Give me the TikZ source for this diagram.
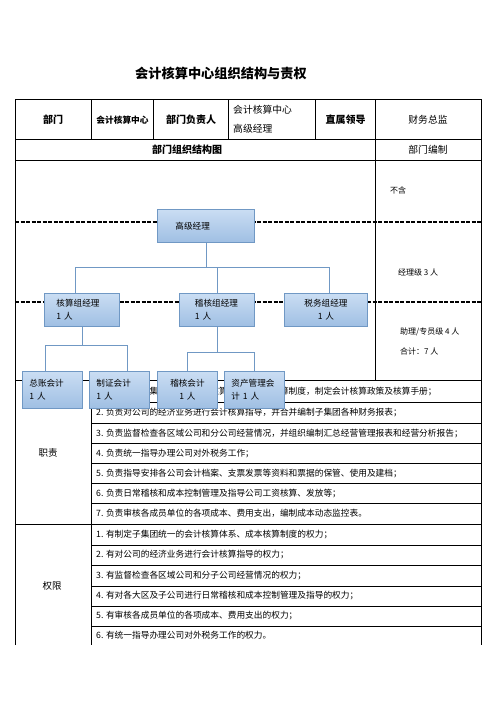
\documentclass[tikz,border=0pt]{standalone}
\usepackage{fontspec}
\setmainfont{Noto Sans CJK SC}
\usetikzlibrary{positioning}
\definecolor{OrgLine}{HTML}{7098C4}
\definecolor{OrgTop}{HTML}{CADDF3}
\definecolor{OrgBot}{HTML}{9FBFE3}

\begin{document}
\begin{tikzpicture}[x=1pt,y=-1pt,
  grid/.style={line width=0.8pt},
  level/.style={line width=1.1pt, dash pattern=on 4pt off 1.5pt},
  orgbox/.style={draw=OrgLine, line width=0.9pt, top color=OrgTop, bottom color=OrgBot, anchor=north west, inner ysep=0pt, font=\fontsize{8.6}{13}\selectfont},
  conn/.style={draw=OrgLine, line width=0.9pt},
  head/.style={font=\fontsize{10}{12}\selectfont\bfseries},
  cell/.style={font=\fontsize{9.8}{19}\selectfont},
  item/.style={anchor=west, inner sep=0pt, font=\fontsize{8.7}{10}\selectfont},
  side/.style={anchor=west, inner sep=0pt, font=\fontsize{8}{10}\selectfont}]
  \useasboundingbox (0,0) rectangle (496,702);

  % table grid
  \draw[grid] (15,645) -- (15,99) -- (481,99) -- (481,645);
  \draw[grid] (15,139.5) -- (481,139.5);
  \draw[grid] (15,160) -- (481,160);
  \foreach \x in {91.5,153.5,228.5,315.5}
    \draw[grid] (\x,99) -- (\x,139.5);
  \draw[grid] (375.5,99) -- (375.5,380.5);
  \draw[grid] (15,380.5) -- (481,380.5);
  \draw[grid] (91.5,380.5) -- (91.5,645);
  \draw[grid] (15,524) -- (481,524);
  \foreach \y in {402,423,443.5,463.5,483.5,503.5,545,565,586,606,626}
    \draw[grid] (91.5,\y) -- (481,\y);

  % level lines
  \draw[level] (15,222) -- (481,222);
  \draw[level] (15,302) -- (481,302);

  \node[font=\fontsize{13.2}{15}\selectfont\bfseries] (title) at (221,73) {会计核算中心组织结构与责权};

  % header
  \node[head] (dept) at (53,120) {部门};
  \node[font=\fontsize{8.7}{10}\selectfont\bfseries] (deptname) at (122.5,120) {会计核算中心};
  \node[head] (lead) at (191,120) {部门负责人};
  \node[cell, align=left, anchor=west, inner sep=0pt] (leadname) at (233,119.5) {会计核算中心\\高级经理};
  \node[head] (boss) at (345.5,120) {直属领导};
  \node[cell] (bossname) at (428,120) {财务总监};
  \node[head] (chart) at (187,149.5) {部门组织结构图};
  \node[cell] (staff) at (428,149.5) {部门编制};

  % staffing column
  \node[side] (none) at (390,190) {不含};
  \node[side] (mgr) at (398,272) {经理级 3 人};
  \node[side] (asst) at (400,332) {助理/专员级 4 人};
  \node[side] (total) at (400,351) {合计：7 人};

  % duties
  \node[font=\fontsize{9.5}{11}\selectfont] (duty) at (48,453) {职责};
  \node[item] (d1) at (96,391.25) {1. 负责制定子集团统一的会计核算体系、成本核算制度，制定会计核算政策及核算手册；};
  \node[item] (d2) at (96,412.5) {2. 负责对公司的经济业务进行会计核算指导，并合并编制子集团各种财务报表；};
  \node[item] (d3) at (96,433.25) {3. 负责监督检查各区域公司和分公司经营情况，并组织编制汇总经营管理报表和经营分析报告；};
  \node[item] (d4) at (96,453.5) {4. 负责统一指导办理公司对外税务工作；};
  \node[item] (d5) at (96,473.5) {5. 负责指导安排各公司会计档案、支票发票等资料和票据的保管、使用及建档；};
  \node[item] (d6) at (96,493.5) {6. 负责日常稽核和成本控制管理及指导公司工资核算、发放等；};
  \node[item] (d7) at (96,513.75) {7. 负责审核各成员单位的各项成本、费用支出，编制成本动态监控表。};

  % authority
  \node[font=\fontsize{9.5}{11}\selectfont] (auth) at (52,586) {权限};
  \node[item] (a1) at (96,534.5) {1. 有制定子集团统一的会计核算体系、成本核算制度的权力；};
  \node[item] (a2) at (96,555) {2. 有对公司的经济业务进行会计核算指导的权力；};
  \node[item] (a3) at (96,575.5) {3. 有监督检查各区域公司和分子公司经营情况的权力；};
  \node[item] (a4) at (96,596) {4. 有对各大区及子公司进行日常稽核和成本控制管理及指导的权力；};
  \node[item] (a5) at (96,616) {5. 有审核各成员单位的各项成本、费用支出的权力；};
  \node[item] (a6) at (96,635.5) {6. 有统一指导办理公司对外税务工作的权力。};

  % org chart
  \node[orgbox, text width=61pt, inner xsep=18pt, minimum height=33pt, align=left] (gm) at (157,209) {高级经理};
  \node[orgbox, text width=51pt, inner xsep=12pt, minimum height=33pt, align=left] (hs) at (44,293) {核算组经理\\1 人};
  \node[orgbox, text width=44pt, inner xsep=15.5pt, minimum height=33pt, align=left] (jh) at (179,293) {稽核组经理\\1 人};
  \node[orgbox, text width=71pt, inner xsep=6pt, minimum height=33pt, align=center] (sw) at (284,293) {税务组经理\\1 人};
  \node[orgbox, text width=46pt, inner xsep=7pt, minimum height=37pt, align=left] (zz) at (22,371) {总账会计\\1 人};
  \node[orgbox, text width=46pt, inner xsep=7pt, minimum height=37pt, align=left] (zj) at (89,371) {制证会计\\1 人};
  \node[orgbox, text width=46pt, inner xsep=7pt, minimum height=37pt, align=center] (jk) at (157,371) {稽核会计\\1 人};
  \node[orgbox, text width=46pt, inner xsep=7pt, minimum height=37pt, align=left] (zc) at (224,371) {资产管理会\\计 1 人};

  \draw[conn] (gm.south) -- ++(0,25) -| ([xshift=-6.5pt]hs.north);
  \draw[conn] (gm.south) -- ++(0,25) -| (jh.north);
  \draw[conn] (gm.south) -- ++(0,25) -| ([xshift=3.5pt]sw.north);
  \draw[conn] (hs.south) -- ++(0,19) -| ([xshift=-7pt]zz.north);
  \draw[conn] (hs.south) -- ++(0,19) -| ([xshift=8pt]zj.north);
  \draw[conn] (jh.south) -- ++(0,26) -| (jk.north);
  \draw[conn] (jh.south) -- ++(0,26) -| (zc.north);
\end{tikzpicture}
\end{document}
